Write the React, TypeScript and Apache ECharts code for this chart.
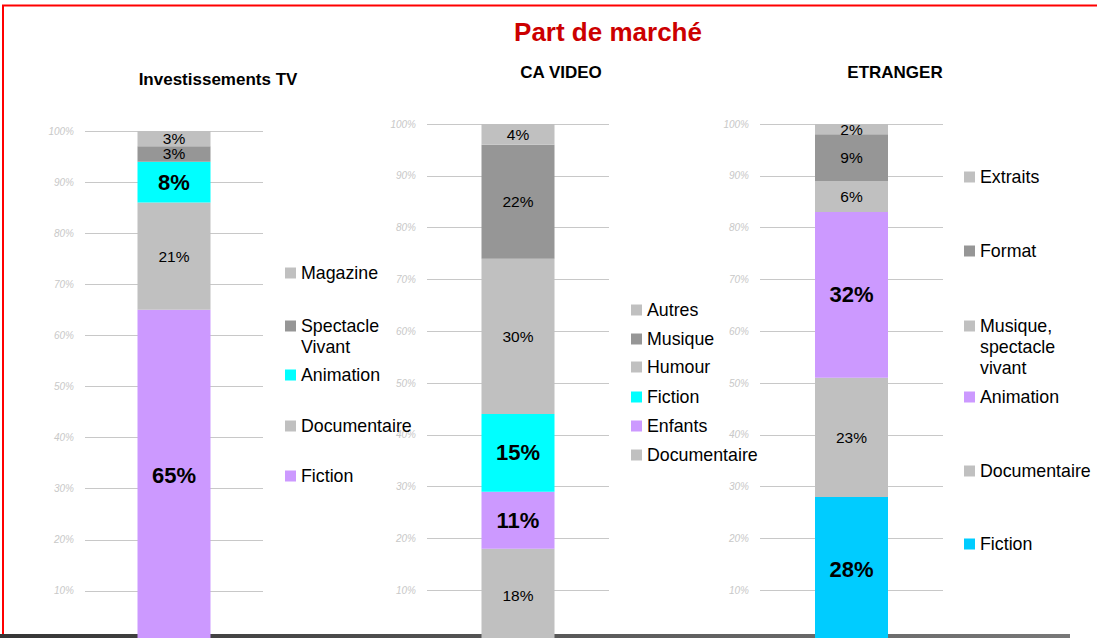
import React, { useEffect, useRef } from "react";
import * as echarts from "echarts";

// ---- data ----
const mainTitle = "Part de marché";
const panelTitles = ["Investissements TV", "CA VIDEO", "ETRANGER"];

const tvNames = ["Fiction", "Documentaire", "Animation", "Spectacle Vivant", "Magazine"];
const tvValues = [65, 21, 8, 3, 3];

const videoNames = ["Documentaire", "Enfants", "Fiction", "Humour", "Musique", "Autres"];
const videoValues = [18, 11, 15, 30, 22, 4];

const etrNames = ["Fiction", "Documentaire", "Animation", "Musique, spectacle vivant", "Format", "Extraits"];
const etrValues = [28, 23, 32, 6, 9, 2];

const yMin = 0;
const yMax = 100;
const yStep = 10;

// ---- styles ----
const LIGHT = "#C0C0C0";
const DARK = "#969696";
const CYAN = "#00FFFF";
const PURPLE = "#CC99FF";
const SKY = "#00CCFF";

const tvColors = [PURPLE, LIGHT, CYAN, DARK, LIGHT];
const videoColors = [LIGHT, PURPLE, CYAN, LIGHT, DARK, LIGHT];
const etrColors = [SKY, LIGHT, PURPLE, LIGHT, DARK, LIGHT];

const tvBold = [true, false, true, false, false];
const videoBold = [false, true, true, false, false, false];
const etrBold = [true, false, true, false, false, false];

const legendLines: Record<string, string[]> = {
  "Spectacle Vivant": ["Spectacle", "Vivant"],
  "Musique, spectacle vivant": ["Musique,", "spectacle", "vivant"],
};

const FONT = "Liberation Sans";

// layout per panel
const panels = [
  {
    names: tvNames, values: tvValues, colors: tvColors, bold: tvBold,
    grid: { left: 85, top: 131, width: 178, height: 511 },
    titleX: 218, titleY: 79,
    legendX: 285,
    legendY: [273, 326, 375, 426, 476], // top to bottom
  },
  {
    names: videoNames, values: videoValues, colors: videoColors, bold: videoBold,
    grid: { left: 427, top: 124, width: 182, height: 518 },
    titleX: 561, titleY: 72,
    legendX: 631,
    legendY: [310, 339, 367, 397, 426, 455],
  },
  {
    names: etrNames, values: etrValues, colors: etrColors, bold: etrBold,
    grid: { left: 760, top: 124, width: 183, height: 518 },
    titleX: 895, titleY: 72,
    legendX: 964,
    legendY: [177, 251, 326, 397, 471, 544],
  },
];

const LH = 21;

export default function App() {
  const ref = useRef<HTMLDivElement>(null);

  useEffect(() => {
    if (!ref.current) return;
    const chart = echarts.init(ref.current, undefined, { renderer: "svg" });

    const grids: any[] = [];
    const xAxes: any[] = [];
    const yAxes: any[] = [];
    const series: any[] = [];
    const legends: any[] = [];
    const graphics: any[] = [];

    panels.forEach((p, gi) => {
      grids.push({ ...p.grid, containLabel: false });
      xAxes.push({
        type: "category",
        gridIndex: gi,
        data: [panelTitles[gi]],
        show: false,
      });
      yAxes.push({
        type: "value",
        gridIndex: gi,
        min: yMin,
        max: yMax,
        interval: yStep,
        axisLine: { show: false },
        axisTick: { show: false },
        splitLine: { show: true, lineStyle: { color: "#C8C8C8", width: 1 } },
        axisLabel: {
          formatter: "{value}%",
          color: "#C8C8C8",
          fontStyle: "italic",
          fontSize: 10,
          fontFamily: FONT,
          margin: 11,
        },
      });
      p.names.forEach((name, si) => {
        const bold = p.bold[si];
        series.push({
          type: "bar",
          name,
          xAxisIndex: gi,
          yAxisIndex: gi,
          stack: "s" + gi,
          barWidth: 73,
          data: [p.values[si]],
          itemStyle: { color: p.colors[si] },
          label: {
            show: true,
            position: "inside",
            formatter: (v: any) => v.value + "%",
            color: "#000",
            fontFamily: FONT,
            fontSize: bold ? 22 : 15.5,
            fontWeight: bold ? "bold" : "normal",
          },
          emphasis: { disabled: true },
        });
      });
      // legend items: top to bottom = reverse stacking order
      const order = p.names.map((_, i) => p.names.length - 1 - i);
      order.forEach((si, k) => {
        const name = p.names[si];
        const lines = legendLines[name] || [name];
        const n = lines.length;
        const total = 2 * n - 1;
        const text = "\n".repeat(n - 1) + lines.join("\n");
        legends.push({
          show: true,
          orient: "vertical",
          left: p.legendX,
          top: p.legendY[k] - (total * LH) / 2,
          padding: 0,
          itemWidth: 11,
          itemHeight: 11,
          itemGap: 0,
          icon: "rect",
          selectedMode: false,
          data: [{ name, itemStyle: { color: p.colors[si] } }],
          formatter: () => text,
          textStyle: {
            fontSize: 17.8,
            fontFamily: FONT,
            color: "#000",
            lineHeight: LH,
          },
        });
      });
      graphics.push({
        type: "text",
        x: p.titleX,
        y: p.titleY,
        style: {
          text: panelTitles[gi],
          align: "center",
          verticalAlign: "middle",
          fontSize: 17,
          fontWeight: "bold",
          fontFamily: FONT,
          fill: "#000",
        },
      });
    });

    graphics.push({
      type: "text",
      x: 608,
      y: 32,
      style: {
        text: mainTitle,
        align: "center",
        verticalAlign: "middle",
        fontSize: 26,
        fontWeight: "bold",
        fontFamily: FONT,
        fill: "#CC0000",
      },
    });
    graphics.push({
      type: "rect",
      z: -1,
      shape: { x: 3, y: 5.5, width: 1200, height: 800 },
      style: { fill: "none", stroke: "#FF0000", lineWidth: 2 },
    });
    graphics.push({
      type: "rect",
      z: -1,
      shape: { x: 0, y: 634, width: 1070, height: 40 },
      style: {
        fill: new echarts.graphic.LinearGradient(0, 0, 1, 0, [
          { offset: 0, color: "#363636" },
          { offset: 1, color: "#787878" },
        ]),
      },
    });

    chart.setOption({
      animation: false,
      backgroundColor: "#fff",
      grid: grids,
      xAxis: xAxes,
      yAxis: yAxes,
      legend: legends,
      series,
      graphic: graphics,
    });

    return () => chart.dispose();
  }, []);

  return (
    <div
      style={{
        position: "fixed",
        left: 0,
        top: 0,
        width: 1097,
        height: 638,
        overflow: "hidden",
      }}
    >
      <div ref={ref} style={{ width: 1097, height: 670 }} />
    </div>
  );
}
